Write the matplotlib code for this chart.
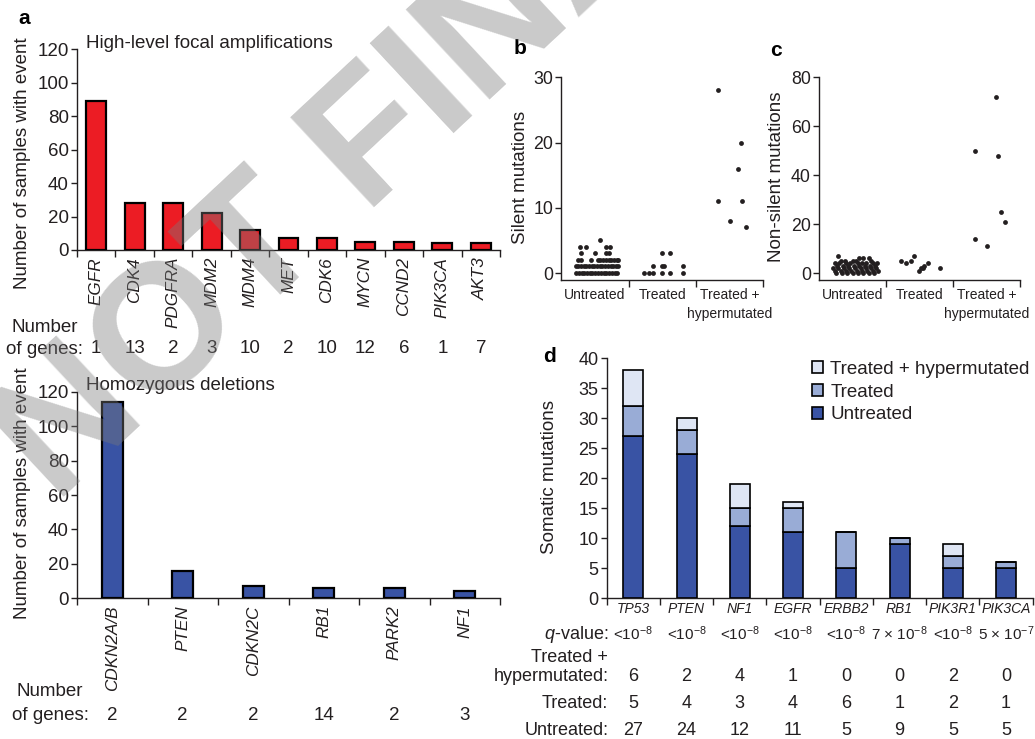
import matplotlib
matplotlib.use("Agg")
import matplotlib.pyplot as plt
from matplotlib.patches import Patch
import numpy as np

plt.rcParams['font.family'] = ['Liberation Sans', 'DejaVu Sans']
plt.rcParams['mathtext.fontset'] = 'custom'
plt.rcParams['mathtext.rm'] = 'Liberation Sans'
plt.rcParams['mathtext.it'] = 'Liberation Sans:italic'

INK = '#231f20'
RED = '#ec1c24'
BLUE = '#3953a4'
MID_BLUE = '#99acd6'
PALE_BLUE = '#dfe6f4'

# panel a: focal amplifications / deletions
amp_genes = ['EGFR', 'CDK4', 'PDGFRA', 'MDM2', 'MDM4', 'MET', 'CDK6', 'MYCN', 'CCND2', 'PIK3CA', 'AKT3']
amp_counts = [89, 28, 28, 22, 12, 7, 7, 5, 5, 4, 4]
amp_ngenes = [1, 13, 2, 3, 10, 2, 10, 12, 6, 1, 7]

del_genes = ['CDKN2A/B', 'PTEN', 'CDKN2C', 'RB1', 'PARK2', 'NF1']
del_counts = [114, 16, 7, 6, 6, 4]
del_ngenes = [2, 2, 2, 14, 2, 3]

# panels b, c: per-sample mutation counts (x = jitter offset within group)
groups = ['Untreated', 'Treated', 'Treated +\nhypermutated']

silent_untr_rows = {
    0: [-0.28, -0.24, -0.2, -0.16, -0.12, -0.08, -0.04, 0.0, 0.05, 0.09, 0.13, 0.17, 0.21, 0.25, 0.29, 0.33],
    1: [-0.29, -0.25, -0.21, -0.17, -0.13, -0.09, -0.05, -0.01, 0.03, 0.07, 0.11, 0.15, 0.19, 0.23, 0.27, 0.31, 0.34],
    2: [-0.26, -0.21, -0.06, 0.04, 0.08, 0.12, 0.16, 0.2, 0.24, 0.28, 0.32, 0.34],
    3: [-0.21, 0.0, 0.17, 0.2],
    4: [-0.23, -0.13, 0.17, 0.22],
    5: [0.08],
}
silent_treat_rows = {
    0: [-0.28, -0.2, -0.14, 0.0, 0.12, 0.31],
    1: [-0.14, 0.0, 0.03, 0.31],
    3: [0.0, 0.12],
}
silent_hyper_off = [-0.18, 0.17, 0.12, -0.18, 0.19, 0.0, 0.25]
silent_hyper_val = [28, 20, 16, 11, 11, 8, 7]

nonsil_untr_rows = {
    0: [-0.25, -0.16, -0.08, 0.0, 0.08, 0.16, 0.24, 0.32],
    1: [-0.27, -0.18, -0.1, -0.02, 0.06, 0.14, 0.22, 0.3, 0.37],
    2: [-0.29, -0.22, -0.13, -0.05, 0.04, 0.12, 0.2, 0.27, 0.35],
    3: [-0.24, -0.15, -0.07, 0.02, 0.1, 0.18, 0.26, 0.33],
    4: [-0.27, -0.2, -0.1, -0.04, 0.08, 0.14, 0.2, 0.3, 0.36],
    5: [-0.17, -0.12, 0.0, 0.05, 0.28],
    6: [0.1, 0.16, 0.24],
    7: [-0.22],
}
nonsil_treat_off = [-0.28, -0.2, -0.13, -0.08, -0.01, 0.02, 0.05, 0.07, 0.12, 0.31]
nonsil_treat_val = [5, 4, 5, 7, 1, 2, 2, 3, 4, 2]
nonsil_hyper_off = [0.14, -0.18, 0.17, 0.21, 0.27, -0.18, 0.0]
nonsil_hyper_val = [72, 50, 48, 25, 21, 14, 11]

# panel d: significantly mutated genes
smg_genes = ['TP53', 'PTEN', 'NF1', 'EGFR', 'ERBB2', 'RB1', 'PIK3R1', 'PIK3CA']
smg_untreated = [27, 24, 12, 11, 5, 9, 5, 5]
smg_treated = [5, 4, 3, 4, 6, 1, 2, 1]
smg_hyper = [6, 2, 4, 1, 0, 0, 2, 0]
smg_qvalue = [r'<10$^{-8}$', r'<10$^{-8}$', r'<10$^{-8}$', r'<10$^{-8}$', r'<10$^{-8}$',
              r'7 × 10$^{-8}$', r'<10$^{-8}$', r'5 × 10$^{-7}$']

W, H = 1035, 739
fig = plt.figure(figsize=(W / 100, H / 100), dpi=100)


def add_ax(left, top, right, bottom):
    return fig.add_axes([left / W, 1 - bottom / H, (right - left) / W, (bottom - top) / H])


def style(ax, ylabsize=13.5):
    for s in ['top', 'right']:
        ax.spines[s].set_visible(False)
    for s in ['left', 'bottom']:
        ax.spines[s].set_linewidth(1.0)
        ax.spines[s].set_color(INK)
    ax.tick_params(axis='y', direction='out', length=4, width=1.0, colors=INK, labelsize=ylabsize, pad=2)
    ax.tick_params(axis='x', which='minor', direction='out', length=5, width=1.0, color=INK)
    ax.tick_params(axis='x', which='major', length=0, colors=INK)


def fig_text(x, y, s, **kw):
    kw.setdefault('color', INK)
    return fig.text(x / W, 1 - y / H, s, **kw)


def bar_panel(ax, genes, counts, ngenes, width, color, title, ngene_y, numlab_x, numlab_y):
    x = np.arange(len(genes))
    ax.bar(x, counts, width=width, color=color, edgecolor='black', linewidth=1.6, zorder=3)
    ax.set_xlim(-0.5, len(genes) - 0.5)
    ax.set_ylim(0, 120)
    ax.set_yticks([0, 20, 40, 60, 80, 100, 120])
    ax.set_xticks(x)
    ax.set_xticklabels(genes, rotation=90, style='italic', fontsize=12.3)
    ax.set_xticks(np.arange(-0.5, len(genes)), minor=True)
    style(ax)
    ax.tick_params(axis='x', which='major', pad=5)
    ax.text(0.021, 1.03, title, transform=ax.transAxes, fontsize=13.5, color=INK, va='center', ha='left')
    tr = ax.get_xaxis_transform()
    for xi, n in zip(x, ngenes):
        ax.text(xi, ngene_y, str(n), transform=tr, fontsize=13.5, color=INK, ha='center', va='center')
    fig_text(numlab_x, numlab_y[0], 'Number', fontsize=13.5, ha='center', va='center')
    fig_text(numlab_x, numlab_y[1], 'of genes:', fontsize=13.5, ha='center', va='center')


# ---- panel a
ax_amp = add_ax(77, 49.3, 500, 250)
bar_panel(ax_amp, amp_genes, amp_counts, amp_ngenes, 0.52, RED,
          'High-level focal amplifications', -0.493, 45, (328, 349))
fig_text(23, 163, 'Number of samples with event', rotation=90, fontsize=13.5, ha='center', va='center')

ax_del = add_ax(77, 391.7, 500, 598.3)
bar_panel(ax_del, del_genes, del_counts, del_ngenes, 0.3, BLUE,
          'Homozygous deletions', -0.565, 50, (691.7, 715))
fig_text(23, 493, 'Number of samples with event', rotation=90, fontsize=13.5, ha='center', va='center')


# ---- panels b and c
def rows_to_xy(rows, group):
    xs, ys = [], []
    for val, offs in rows.items():
        for o in offs:
            xs.append(group + o)
            ys.append(val)
    return xs, ys


def dot_panel(ax, pts, ymax, ystep):
    for xs, ys in pts:
        ax.scatter(xs, ys, s=12, color=INK, linewidths=0, zorder=3, clip_on=False)
    ax.set_xlim(-0.5, 2.5)
    ax.set_ylim(-ymax * 7.0 / 195.7, ymax)
    ax.set_yticks(np.arange(0, ymax + 1, ystep))
    ax.set_xticks([0, 1, 2])
    ax.set_xticklabels(groups, fontsize=10, linespacing=1.45)
    ax.set_xticks([0.5, 1.5, 2.5], minor=True)
    style(ax, ylabsize=12.8)
    ax.tick_params(axis='x', which='major', pad=5.5)


ax_b = add_ax(561.4, 77.3, 763.3, 280)
b_pts = [rows_to_xy(silent_untr_rows, 0), rows_to_xy(silent_treat_rows, 1),
         ([2 + o for o in silent_hyper_off], silent_hyper_val)]
dot_panel(ax_b, b_pts, 30, 10)
fig_text(520.5, 177, 'Silent mutations', rotation=90, fontsize=13.5, ha='center', va='center')

ax_c = add_ax(819.3, 77.3, 1020, 280)
c_pts = [rows_to_xy(nonsil_untr_rows, 0),
         ([1 + o for o in nonsil_treat_off], nonsil_treat_val),
         ([2 + o for o in nonsil_hyper_off], nonsil_hyper_val)]
dot_panel(ax_c, c_pts, 80, 20)
fig_text(776.5, 177, 'Non-silent mutations', rotation=90, fontsize=13.5, ha='center', va='center')

# ---- panel d
ax_d = add_ax(606.7, 358.3, 1032.7, 598.3)
xd = np.arange(len(smg_genes))
bottom2 = np.array(smg_untreated) + np.array(smg_treated)
kw = dict(width=0.375, edgecolor='black', linewidth=1.2, zorder=3)
ax_d.bar(xd, smg_untreated, color=BLUE, **kw)
ax_d.bar(xd, smg_treated, bottom=smg_untreated, color=MID_BLUE, **kw)
ax_d.bar(xd, smg_hyper, bottom=bottom2, color=PALE_BLUE, **kw)
ax_d.set_xlim(-0.5, len(smg_genes) - 0.5)
ax_d.set_ylim(0, 40)
ax_d.set_yticks(np.arange(0, 41, 5))
ax_d.set_xticks(xd)
ax_d.set_xticklabels(smg_genes, style='italic', fontsize=10)
ax_d.set_xticks(np.arange(-0.5, len(smg_genes)), minor=True)
style(ax_d, ylabsize=13)
ax_d.tick_params(axis='x', which='major', pad=3)
fig_text(549, 476.5, 'Somatic mutations', rotation=90, fontsize=13.5, ha='center', va='center')

handles = [Patch(facecolor=PALE_BLUE, edgecolor='black', linewidth=1.2),
           Patch(facecolor=MID_BLUE, edgecolor='black', linewidth=1.2),
           Patch(facecolor=BLUE, edgecolor='black', linewidth=1.2)]
leg = ax_d.legend(handles, ['Treated + hypermutated', 'Treated', 'Untreated'],
                  loc='upper left', bbox_to_anchor=(811.7 / W, 1 - 361 / H), bbox_transform=fig.transFigure,
                  frameon=False, fontsize=13.5, handlelength=0.6, handleheight=0.6,
                  handletextpad=0.4, labelspacing=0.3, borderpad=0, borderaxespad=0)
for t in leg.get_texts():
    t.set_color(INK)

trd = ax_d.get_xaxis_transform()
row_x = -0.47
ax_d.text(row_x, -0.149, r'$\it{q}$-value:', transform=trd, fontsize=13, color=INK, ha='right', va='center')
ax_d.text(row_x, -0.2475, 'Treated +', transform=trd, fontsize=13, color=INK, ha='right', va='center')
ax_d.text(row_x, -0.327, 'hypermutated:', transform=trd, fontsize=13, color=INK, ha='right', va='center')
ax_d.text(row_x, -0.4375, 'Treated:', transform=trd, fontsize=13, color=INK, ha='right', va='center')
ax_d.text(row_x, -0.549, 'Untreated:', transform=trd, fontsize=13, color=INK, ha='right', va='center')
for xi, q, h, t, u in zip(xd, smg_qvalue, smg_hyper, smg_treated, smg_untreated):
    ax_d.text(xi, -0.149, q, transform=trd, fontsize=11, color=INK, ha='center', va='center')
    ax_d.text(xi, -0.327, str(h), transform=trd, fontsize=13, color=INK, ha='center', va='center')
    ax_d.text(xi, -0.4375, str(t), transform=trd, fontsize=13, color=INK, ha='center', va='center')
    ax_d.text(xi, -0.549, str(u), transform=trd, fontsize=13, color=INK, ha='center', va='center')

# panel letters
for letter, (px, py) in zip('abcd', [(24, 18), (519.6, 49), (775.6, 50), (549, 356)]):
    fig_text(px, py, letter, fontsize=15, fontweight='bold', ha='center', va='center', color='black')

# watermark, anchored at the start of its baseline
fig_text(56, 505, 'NOT FINAL', fontsize=128, fontweight='bold', color='#7a7a7a', alpha=0.4,
         rotation=43, rotation_mode='anchor', ha='left', va='baseline', zorder=10)

fig.savefig('out.png', dpi=100)
